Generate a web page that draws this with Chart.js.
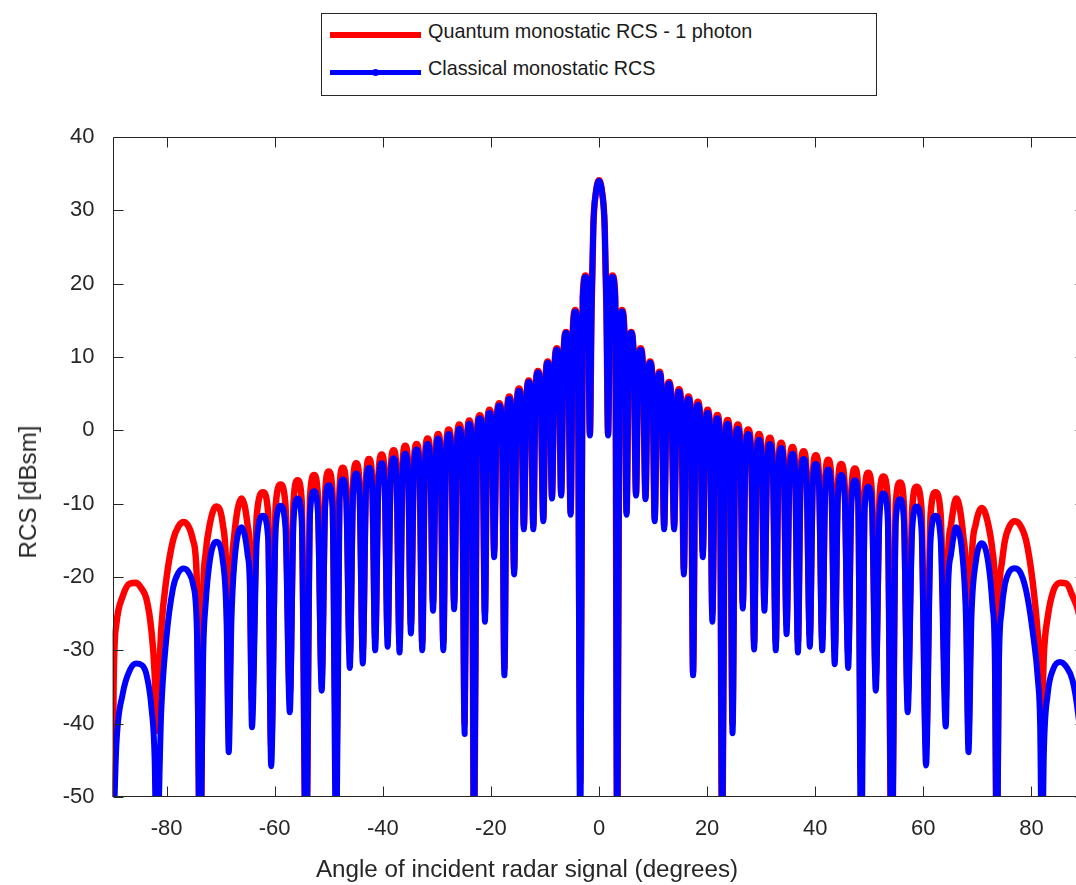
<!DOCTYPE html>
<html>
<head>
<meta charset="utf-8">
<script src="https://cdn.jsdelivr.net/npm/chart.js@4/dist/chart.umd.min.js"></script>
<style>
  html, body { margin:0; padding:0; background:#fff; }
  #wrap { position:relative; width:1076px; height:885px; overflow:hidden; background:#fff;
          font-family:'Liberation Sans', Arial, Helvetica, sans-serif; color:#262626; }
  #c { position:absolute; left:0; top:0; }
  #legend { position:absolute; left:321px; top:13px; width:556px; height:83px; box-sizing:border-box;
            border:1px solid #262626; background:#fff; }
  .lline { position:absolute; left:8px; width:91px; }
  .ltext { position:absolute; left:106px; font-size:19.8px; line-height:20px; color:#1a1a1a; white-space:nowrap; }
  .dot { position:absolute; width:7px; height:7px; border-radius:50%; background:#0000ff; }
  #xtitle { position:absolute; left:527px; top:869px; transform:translate(-50%,-50%);
            font-size:24.2px; white-space:nowrap; color:#262626; }
  #ytitle { position:absolute; left:28px; top:492px; transform:translate(-50%,-50%) rotate(-90deg);
            font-size:24.2px; white-space:nowrap; color:#262626; }
</style>
</head>
<body>
<div id="wrap">
  <canvas id="c" width="1100" height="885" style="width:1100px;height:885px"></canvas>
  <div id="legend">
    <div class="lline" style="top:18px;height:6px;background:#ff0000"></div>
    <div class="ltext" style="top:7px">Quantum monostatic RCS - 1 photon</div>
    <div class="lline" style="top:56px;height:5px;background:#0000ff"></div>
    <div class="dot" style="left:50px;top:55px"></div>
    <div class="ltext" style="top:44px">Classical monostatic RCS</div>
  </div>
  <div id="xtitle">Angle of incident radar signal (degrees)</div>
  <div id="ytitle">RCS [dBsm]</div>
</div>
<script>
// Angle of incident radar signal (degrees) (lobe nulls, shoulders, peaks)
const angles = [
  -90, -89.8, -89.3, -88.1, -86.8, -85.6, -84.6, -83.75, -82.8, -82.2, -81.85,
  -81.0, -80.05, -78.8, -77.8, -76.8, -75.8, -75.1, -74.4, -73.8,
  -73.2, -72.8, -72.0, -70.85, -69.6, -68.9, -68.5,
  -68.0, -67.5, -66.15, -65.0, -64.6, -64.2,
  -63.3, -62.15, -61.2, -60.65,
  -59.8, -58.9, -58.0, -57.2,
  -56.5, -55.75, -55.0, -54.2,
  -53.45, -52.7, -52.0, -51.3,
  -50.65, -50.0, -49.3, -48.6,
  -48.0, -47.4, -46.75, -46.1,
  -45.5, -44.9, -44.3, -43.7,
  -43.1, -42.55, -41.95, -41.4,
  -40.8, -40.2, -39.65, -39.1,
  -38.55, -38.0, -37.45, -36.9,
  -36.35, -35.85, -35.3, -34.8,
  -34.25, -33.75, -33.2, -32.7,
  -32.2, -31.7, -31.2, -30.7,
  -30.2, -29.75, -29.3, -28.8,
  -28.3, -27.8, -27.3, -26.8,
  -26.3, -25.85, -25.35, -24.85,
  -24.4, -24.0, -23.55, -23.1,
  -22.6, -22.05, -21.55, -21.1,
  -20.7, -20.25, -19.8, -19.4,
  -18.95, -18.45, -17.95, -17.5,
  -17.05, -16.6, -16.15, -15.7,
  -15.25, -14.8, -14.35, -13.9,
  -13.45, -13.0, -12.57, -12.15,
  -11.75, -11.3, -10.8, -10.3,
  -9.9, -9.5, -9.1, -8.7,
  -8.25, -7.8, -7.4, -7.0,
  -6.55, -6.1, -5.7, -5.25,
  -4.85, -4.4, -3.95, -3.45,
  -3.0, -2.5, -2.05, -1.68,
  -1.38, -1.05, -0.6, 0, 0.6, 1.05, 1.38, 1.68,
  2.05, 2.5, 3.0, 3.38,
  3.8, 4.25, 4.7, 5.1,
  5.5, 5.95, 6.4, 6.85,
  7.25, 7.7, 8.15, 8.6,
  9.0, 9.45, 9.9, 10.3,
  10.75, 11.2, 11.6, 12.05,
  12.5, 12.95, 13.4, 13.9,
  14.35, 14.8, 15.25, 15.7,
  16.1, 16.55, 17.0, 17.4,
  17.85, 18.3, 18.75, 19.2,
  19.65, 20.1, 20.55, 20.97,
  21.45, 21.9, 22.35, 22.8,
  23.3, 23.8, 24.25, 24.7,
  25.2, 25.7, 26.15, 26.6,
  27.1, 27.6, 28.15, 28.7,
  29.15, 29.6, 30.1, 30.6,
  31.1, 31.6, 32.15, 32.7,
  33.2, 33.7, 34.2, 34.7,
  35.25, 35.8, 36.3, 36.8,
  37.3, 37.85, 38.4, 39.0,
  39.55, 40.1, 40.7, 41.3,
  41.85, 42.4, 43.0, 43.6,
  44.2, 44.8, 45.45, 46.1,
  46.7, 47.35, 47.95, 48.5,
  49.15, 49.8, 50.5, 51.2,
  51.9, 52.6, 53.4, 54.15,
  54.9, 55.7, 56.4, 57.1,
  57.95, 58.75, 59.65, 60.5,
  61.35, 62.25, 63.2, 64.15,
  64.6, 65.1, 66.1, 67.4, 67.9, 68.35,
  68.9, 69.7, 70.85, 72.0, 72.8, 73.2, 73.6,
  74.0, 74.5, 75.1, 75.8, 76.8, 77.8, 79.0, 80.2, 81.2, 81.6, 81.95,
  82.3, 83.0, 84.0, 85.3, 86.5, 87.6, 88.6, 89.3, 89.8, 90
];

// Quantum monostatic RCS - 1 photon (dBsm)
const quantumRCS = [
  -60, -35, -26.5, -22.6, -20.9, -20.8, -21.6, -22.9, -27.3, -33.2, -41,
  -27.3, -20.4, -15.0, -13.1, -12.5, -13.3, -15.0, -20.5, -60,
  -22, -17, -12.8, -10.4, -12.8, -20.4, -39.5,
  -20, -14.5, -9.3, -13.0, -17.0, -36.8,
  -11.5, -8.45, -11.3, -43,
  -10.2, -7.4, -10.2, -36,
  -9.6, -6.8, -9.6, -60,
  -9.0, -6.1, -9.0, -33.7,
  -8.5, -5.6, -8.5, -45,
  -8.0, -5.1, -8.0, -30.5,
  -7.4, -4.5, -7.4, -30,
  -6.8, -3.9, -6.8, -28.5,
  -6.2, -3.3, -6.2, -28,
  -5.6, -2.7, -5.6, -29,
  -5.0, -2.1, -5.0, -26.5,
  -4.7, -1.85, -4.7, -29,
  -4.0, -1.1, -4.0, -23.5,
  -3.4, -0.5, -3.4, -29,
  -2.8, 0.1, -2.8, -23.5,
  -2.1, 0.8, -2.1, -40,
  -1.5, 1.35, -1.5, -60,
  -0.8, 2.06, -0.8, -25,
  0.0, 2.8, 0.0, -16.5,
  0.8, 3.7, 0.8, -32.5,
  1.7, 4.6, 1.7, -19,
  2.8, 5.7, 2.8, -13,
  3.9, 6.8, 3.9, -13,
  5.2, 8.1, 5.2, -12,
  6.5, 9.4, 6.5, -9,
  8.3, 11.2, 8.3, -8.6,
  10.5, 13.4, 10.5, -11.2,
  13.5, 16.4, 13.5, -48,
  18.2, 21.1, 18.2, -0.5,
  16.4, 27.8, 32.3, 34.1, 32.3, 27.8, 16.4, -0.5,
  18.2, 21.1, 18.2, -60,
  13.5, 16.4, 13.5, -11.2,
  10.5, 13.4, 10.5, -8.6,
  8.3, 11.2, 8.3, -9.1,
  6.5, 9.4, 6.5, -12,
  5.1, 8.0, 5.1, -13,
  3.7, 6.6, 3.7, -13,
  2.7, 5.6, 2.7, -19,
  1.7, 4.6, 1.7, -33,
  1.0, 3.9, 1.0, -16.5,
  -0.1, 2.8, -0.1, -25,
  -0.8, 2.1, -0.8, -60,
  -1.5, 1.4, -1.5, -40,
  -2.1, 0.8, -2.1, -23.5,
  -2.8, 0.1, -2.8, -29,
  -3.4, -0.5, -3.4, -23.5,
  -3.9, -1.0, -3.9, -29,
  -4.6, -1.7, -4.6, -26.5,
  -5.2, -2.26, -5.2, -29,
  -5.8, -2.85, -5.8, -28,
  -6.3, -3.4, -6.3, -28.5,
  -6.9, -4.0, -6.9, -30,
  -7.5, -4.6, -7.5, -30.5,
  -8.1, -5.2, -8.1, -48,
  -8.7, -5.8, -8.7, -33.5,
  -9.2, -6.3, -9.2, -60,
  -10.0, -7.1, -10.0, -36,
  -10.6, -7.7, -10.6, -42.7,
  -11.4, -8.45, -11.4, -36.6,
  -17, -13, -9.3, -14.5, -20, -40.7,
  -18.5, -12.8, -10.6, -12.8, -16.5, -22, -60,
  -24, -18.2, -15.0, -13.3, -12.4, -12.8, -15.0, -20.5, -28.0, -32.5, -38,
  -30.5, -25.5, -22.0, -20.8, -20.9, -22.6, -24.5, -27, -34, -60
];

// Classical monostatic RCS (dBsm)
const classicalRCS = [
  -60, -55, -43.2, -35.9, -32.7, -31.8, -32.0, -33.2, -37.8, -45, -60,
  -38.6, -28.5, -21.5, -19.4, -18.85, -19.5, -21.0, -27.0, -60,
  -30, -24, -17.8, -15.2, -17.8, -25.9, -43.9,
  -26, -18.5, -13.2, -17.0, -21.0, -40.5,
  -15.0, -11.65, -14.8, -45.8,
  -13.3, -10.3, -13.3, -38.45,
  -12.2, -9.3, -12.2, -60,
  -11.2, -8.3, -11.2, -35.5,
  -10.4, -7.5, -10.4, -60,
  -9.6, -6.7, -9.6, -32.4,
  -8.8, -5.9, -8.8, -31.8,
  -8.0, -5.1, -8.0, -30.0,
  -7.4, -4.5, -7.4, -29.5,
  -6.7, -3.8, -6.7, -30.3,
  -6.1, -3.2, -6.1, -27.7,
  -5.5, -2.6, -5.5, -30.0,
  -4.8, -1.85, -4.8, -24.6,
  -4.0, -1.1, -4.0, -30.0,
  -3.4, -0.5, -3.4, -24.4,
  -2.7, 0.2, -2.7, -41.4,
  -2.0, 0.9, -2.0, -60,
  -1.2, 1.65, -1.2, -26.1,
  -0.4, 2.4, -0.4, -17.3,
  0.5, 3.4, 0.5, -33.4,
  1.4, 4.3, 1.4, -19.65,
  2.5, 5.4, 2.5, -13.5,
  3.7, 6.6, 3.7, -13.5,
  5.0, 7.9, 5.0, -12.4,
  6.3, 9.2, 6.3, -9.3,
  8.1, 11.0, 8.1, -8.9,
  10.4, 13.3, 10.4, -11.5,
  13.3, 16.2, 13.3, -60,
  18.0, 20.9, 18.0, -0.7,
  16.4, 27.8, 32.3, 34.0, 32.3, 27.8, 16.4, -0.7,
  18.0, 20.9, 18.0, -60,
  13.3, 16.2, 13.3, -11.5,
  10.4, 13.3, 10.4, -8.9,
  8.1, 11.0, 8.1, -9.4,
  6.3, 9.2, 6.3, -12.4,
  4.9, 7.8, 4.9, -13.5,
  3.5, 6.4, 3.5, -13.5,
  2.4, 5.3, 2.4, -19.65,
  1.4, 4.3, 1.4, -33.4,
  0.6, 3.5, 0.6, -17.3,
  -0.5, 2.4, -0.5, -26.1,
  -1.2, 1.65, -1.2, -60,
  -2.0, 0.9, -2.0, -41.3,
  -2.7, 0.2, -2.7, -24.3,
  -3.4, -0.5, -3.4, -29.9,
  -4.2, -1.3, -4.2, -24.6,
  -4.8, -1.85, -4.8, -30.0,
  -5.3, -2.4, -5.3, -27.8,
  -6.1, -3.2, -6.1, -30.3,
  -6.8, -3.9, -6.8, -29.5,
  -7.5, -4.6, -7.5, -30.0,
  -8.3, -5.35, -8.3, -31.9,
  -9.0, -6.1, -9.0, -32.4,
  -9.7, -6.8, -9.7, -60,
  -10.6, -7.7, -10.6, -35.5,
  -11.5, -8.6, -11.5, -60,
  -12.3, -9.4, -12.3, -38.45,
  -13.4, -10.4, -13.4, -45.7,
  -14.8, -11.65, -14.8, -40.4,
  -21, -17, -13.2, -18.5, -26, -43.9,
  -25.5, -18.0, -15.4, -18.0, -24.0, -30, -60,
  -31.5, -24.5, -21.0, -19.4, -18.8, -19.2, -21.8, -27.3, -34.1, -40, -60,
  -44, -36.0, -32.6, -31.6, -32.3, -34.1, -38.5, -44, -55, -60
];

const xTickValues = [-80, -60, -40, -20, 0, 20, 40, 60, 80];
const yTickValues = [-50, -40, -30, -20, -10, 0, 10, 20, 30, 40];

const AXIS_COLOR = '#262626';
Chart.defaults.font.family = "'Liberation Sans', Arial, Helvetica, sans-serif";

const boxPlugin = {
  id: 'matlabBox',
  afterDatasetsDraw(chart) {
    const { ctx, chartArea: a, scales: { x, y } } = chart;
    const L = 10;
    ctx.save();
    ctx.strokeStyle = AXIS_COLOR;
    ctx.lineWidth = 1;
    ctx.beginPath();
    const l = Math.round(a.left) + 0.5, r = Math.round(a.right) - 0.5;
    const t = Math.round(a.top) + 0.5, b = Math.round(a.bottom) - 0.5;
    ctx.rect(l, t, r - l, b - t);
    x.ticks.forEach(tk => {
      const px = Math.round(x.getPixelForValue(tk.value)) + 0.5;
      ctx.moveTo(px, b); ctx.lineTo(px, b - L);
      ctx.moveTo(px, t); ctx.lineTo(px, t + L);
    });
    y.ticks.forEach(tk => {
      const py = Math.round(y.getPixelForValue(tk.value)) + 0.5;
      ctx.moveTo(l, py); ctx.lineTo(l + L, py);
      ctx.moveTo(r, py); ctx.lineTo(r - L, py);
    });
    ctx.stroke();
    ctx.restore();
  }
};

const toPoints = vals => angles.map((a, i) => ({ x: a, y: vals[i] }));

new Chart(document.getElementById('c'), {
  type: 'line',
  data: {
    datasets: [
      {
        label: 'Classical monostatic RCS',
        data: toPoints(classicalRCS),
        borderColor: '#0000ff',
        borderWidth: 6,
        order: 0,
        cubicInterpolationMode: 'monotone',
        pointRadius: 0,
        clip: 0,
        borderJoinStyle: 'round',
        borderCapStyle: 'round'
      },
      {
        label: 'Quantum monostatic RCS - 1 photon',
        data: toPoints(quantumRCS),
        borderColor: '#ff0000',
        borderWidth: 6.5,
        order: 1,
        cubicInterpolationMode: 'monotone',
        pointRadius: 0,
        clip: 0,
        borderJoinStyle: 'round',
        borderCapStyle: 'round'
      }
    ]
  },
  options: {
    responsive: false,
    animation: false,
    devicePixelRatio: 1,
    layout: { padding: { top: 137, right: 14.5, left: 0, bottom: 0 } },
    plugins: { legend: { display: false }, tooltip: { enabled: false } },
    scales: {
      x: {
        type: 'linear', min: -90, max: 90,
        grid: { display: false, drawTicks: false },
        border: { display: false },
        ticks: { padding: 19, color: AXIS_COLOR, font: { size: 22 }, maxRotation: 0, autoSkip: false,
                 callback: v => String(v) },
        afterBuildTicks: s => { s.ticks = xTickValues.map(v => ({ value: v })); },
        afterFit: s => { s.height = 88; }
      },
      y: {
        type: 'linear', min: -50, max: 40,
        grid: { display: false, drawTicks: false },
        border: { display: false },
        ticks: { padding: 18, color: AXIS_COLOR, font: { size: 22 }, autoSkip: false,
                 callback: v => String(v) },
        afterBuildTicks: s => { s.ticks = yTickValues.map(v => ({ value: v })); },
        afterFit: s => { s.width = 112.5; }
      }
    }
  },
  plugins: [boxPlugin]
});
</script>
</body>
</html>
